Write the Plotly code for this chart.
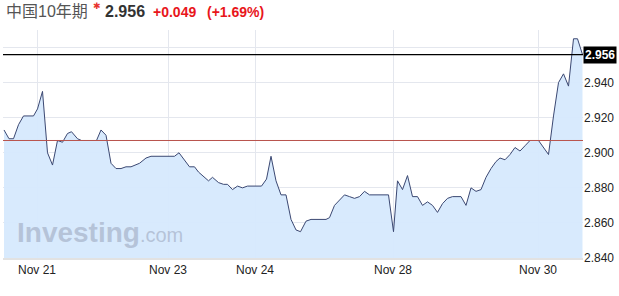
import plotly.graph_objects as go

# time index (hourly-ish session positions) and yield values
t = [0.0, 1.0, 1.9, 2.9, 3.9, 5.9, 6.7, 7.7, 8.7, 9.7, 10.7, 11.7, 12.7, 13.5, 14.7, 15.5,
     18.5, 19.4, 20.4, 21.4, 22.4, 23.4, 24.4, 25.4, 27.1, 28.4, 29.4, 34.1, 35.0, 36.1,
     37.1, 38.1, 38.9, 40.9, 41.7, 42.9, 43.9, 44.7, 45.7, 46.7, 47.7, 48.7, 51.5, 52.5,
     53.4, 54.4, 55.4, 56.4, 57.4, 58.4, 59.3, 60.4, 61.4, 64.4, 65.1, 66.1, 67.1, 68.1,
     69.1, 70.1, 71.1, 72.1, 73.1, 76.9, 77.9, 78.7, 79.7, 80.7, 81.7, 82.7, 83.7, 84.7,
     85.7, 86.7, 87.7, 88.7, 89.7, 91.4, 92.4, 93.4, 94.4, 95.4, 96.4, 97.4, 98.4, 99.2,
     100.2, 101.2, 102.2, 103.2, 104.2, 105.2, 106.9, 107.9, 108.9, 109.9, 110.9, 111.9,
     112.9, 113.9, 114.7, 115.7]
values = [2.913, 2.908, 2.908, 2.916, 2.921, 2.921, 2.925, 2.935, 2.900, 2.893, 2.907, 2.906,
          2.911, 2.912, 2.908, 2.907, 2.907, 2.913, 2.910, 2.894, 2.891, 2.891, 2.892, 2.892,
          2.894, 2.897, 2.898, 2.898, 2.900, 2.896, 2.892, 2.892, 2.889, 2.884, 2.886, 2.883,
          2.882, 2.882, 2.879, 2.881, 2.880, 2.881, 2.881, 2.885, 2.898, 2.884, 2.876, 2.876,
          2.862, 2.856, 2.855, 2.861, 2.862, 2.862, 2.863, 2.870, 2.873, 2.876, 2.875, 2.874,
          2.875, 2.878, 2.876, 2.876, 2.855, 2.884, 2.879, 2.887, 2.875, 2.875, 2.870, 2.872,
          2.870, 2.866, 2.871, 2.874, 2.875, 2.875, 2.870, 2.880, 2.878, 2.879, 2.886, 2.891,
          2.895, 2.897, 2.896, 2.899, 2.903, 2.901, 2.904, 2.907, 2.907, 2.903, 2.899, 2.921,
          2.940, 2.945, 2.938, 2.965, 2.965, 2.956]

tick_pos = [6.6, 32.8, 50.2, 77.8, 106.8]
tick_labels = ["Nov 21", "Nov 23", "Nov 24", "Nov 28", "Nov 30"]
y_ticks = [2.840, 2.860, 2.880, 2.900, 2.920, 2.940, 2.960]
y_tick_labels = ["2.840", "2.860", "2.880", "2.900", "2.920", "2.940", ""]

last_price = 2.956
prev_close = 2.907
title_name = "中国10年期"
change_abs = "+0.049"
change_pct = "(+1.69%)"

FONT = "Arial, 'Liberation Sans', 'Noto Sans CJK SC', sans-serif"

fig = go.Figure()
fig.add_trace(go.Scatter(
    x=t, y=values, mode="lines",
    line=dict(color="#3b4872", width=1),
    fill="tozeroy", fillcolor="rgba(214,233,253,0.95)",
    hoverinfo="skip", showlegend=False,
))

fig.add_hline(y=prev_close, line=dict(color="#b9534c", width=1))
fig.add_hline(y=last_price, line=dict(color="#000000", width=1.2))

fig.update_layout(
    width=619, height=296,
    margin=dict(l=3, r=36, t=30, b=38),
    paper_bgcolor="white", plot_bgcolor="white",
    font=dict(family=FONT, size=12, color="#222"),
    xaxis=dict(
        range=[-0.2, 115.8], tickmode="array", tickvals=tick_pos, ticktext=tick_labels,
        showgrid=True, gridcolor="#e4e7ee", gridwidth=1, zeroline=False,
        showline=True, linecolor="#e2e2e2", linewidth=2, ticks="",
        tickfont=dict(size=12, color="#222"),
    ),
    yaxis=dict(
        range=[2.840, 2.970], side="right", tickmode="array", tickvals=y_ticks,
        ticktext=y_tick_labels, showgrid=True, gridcolor="#e4e7ee", gridwidth=1,
        zeroline=False, ticks="", tickfont=dict(size=12, color="#222"),
    ),
)

# price tag on the right axis
fig.add_annotation(xref="paper", yref="y", x=1.0, y=last_price, xanchor="left", yanchor="middle",
                   text="<b>2.956</b>", showarrow=False, bgcolor="#000000",
                   font=dict(color="white", size=12, family=FONT), borderpad=1)

# header
fig.add_annotation(xref="paper", yref="paper", x=0.0, y=1.079, xanchor="left", yanchor="middle",
                   text=title_name, showarrow=False, font=dict(size=16, color="#555", family=FONT),
                   xshift=1)
fig.add_annotation(xref="paper", yref="paper", x=0.0, y=1.079, xanchor="left", yanchor="middle",
                   text="✱", showarrow=False, font=dict(size=9, color="#e8342e", family=FONT),
                   xshift=88, yshift=6)
fig.add_annotation(xref="paper", yref="paper", x=0.0, y=1.079, xanchor="left", yanchor="middle",
                   text="<b>2.956</b>", showarrow=False, font=dict(size=16, color="#333", family=FONT),
                   xshift=100)
fig.add_annotation(xref="paper", yref="paper", x=0.0, y=1.079, xanchor="left", yanchor="middle",
                   text="<b>" + change_abs + "</b>", showarrow=False,
                   font=dict(size=14, color="#e8161b", family=FONT), xshift=148)
fig.add_annotation(xref="paper", yref="paper", x=0.0, y=1.079, xanchor="left", yanchor="middle",
                   text="<b>" + change_pct + "</b>", showarrow=False,
                   font=dict(size=14, color="#e8161b", family=FONT), xshift=202)

# watermark
fig.add_annotation(xref="paper", yref="paper", x=0.0, y=0.035, xanchor="left", yanchor="bottom",
                   text="<b>Investing</b><span style='font-size:20px'>.com</span>", showarrow=False,
                   font=dict(size=28, color="rgba(170,182,204,0.75)", family=FONT), xshift=12)

fig.write_html("out.html")
